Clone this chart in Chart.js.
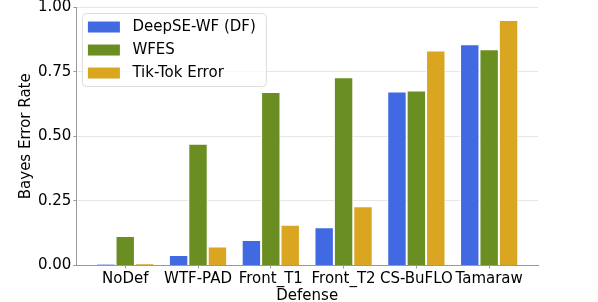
<!DOCTYPE html>
<html lang="en">
  <head>
    <meta charset="UTF-8" />
    <title>Bayes Error Rate by Defense</title>
    <style>
      html, body {
        margin: 0;
        padding: 0;
        background: #fff;
      }
      #wrap {
        width: 598px;
        height: 302px;
      }
    </style>
  </head>
  <body>
    <div id="wrap"><canvas id="chart"></canvas></div>

    <script src="https://cdn.jsdelivr.net/npm/chart.js"></script>
    <script>
      const categories = ["NoDef", "WTF-PAD", "Front_T1", "Front_T2", "CS-BuFLO", "Tamaraw"];
      const deepseValues = [0.005, 0.041, 0.099, 0.148, 0.673, 0.856];
      const wfesValues = [0.114, 0.471, 0.671, 0.728, 0.677, 0.837];
      const tiktokValues = [0.007, 0.074, 0.158, 0.229, 0.832, 0.950];
      const yTicks = [0, 0.25, 0.5, 0.75, 1.0];

      const seriesNames = ["DeepSE-WF (DF)", "WFES", "Tik-Tok Error"];
      const seriesColors = ["#4169E1", "#6B8E23", "#DAA520"];

      const FONT = '"DejaVu Sans", sans-serif';
      Chart.defaults.font.family = FONT;
      Chart.defaults.font.size = 15;
      Chart.defaults.color = "#000";

      const toPoints = (vals) => vals.map((v, i) => ({ x: i, y: v }));

      // legend box drawn inside the plot, upper left
      const innerLegend = {
        id: "innerLegend",
        afterDraw(chart) {
          const { ctx, chartArea } = chart;
          const x0 = chartArea.left + 6;
          const y0 = chartArea.top + 6.5;
          const w = 184, h = 73;
          ctx.save();
          ctx.beginPath();
          ctx.roundRect(x0, y0, w, h, 4);
          ctx.fillStyle = "rgba(255,255,255,0.8)";
          ctx.fill();
          ctx.strokeStyle = "#dcdcdc";
          ctx.lineWidth = 1;
          ctx.stroke();
          ctx.font = "15px " + FONT;
          ctx.textBaseline = "middle";
          chart.data.datasets.forEach((ds, i) => {
            const cy = y0 + 13.5 + i * 23;
            ctx.fillStyle = ds.backgroundColor;
            ctx.fillRect(x0 + 5.5, cy - 5.5, 32, 11);
            ctx.fillStyle = "#000";
            ctx.fillText(ds.label, x0 + 50, cy + 0.5);
          });
          ctx.restore();
        },
      };

      new Chart(document.getElementById("chart"), {
        type: "bar",
        data: {
          datasets: [deepseValues, wfesValues, tiktokValues].map((vals, i) => ({
            label: seriesNames[i],
            data: toPoints(vals),
            backgroundColor: seriesColors[i],
            borderColor: "#fff",
            borderWidth: 1,
            borderSkipped: "bottom",
            categoryPercentage: 0.8,
            barPercentage: 1.0,
          })),
        },
        options: {
          responsive: true,
          maintainAspectRatio: false,
          animation: false,
          layout: { padding: { left: 17, right: 60, top: 0, bottom: 1.5 } },
          plugins: {
            legend: { display: false },
            tooltip: { enabled: false },
          },
          scales: {
            x: {
              type: "linear",
              offset: false,
              min: -0.671,
              max: 5.671,
              afterBuildTicks: (scale) => {
                scale.ticks = categories.map((c, i) => ({ value: i }));
              },
              ticks: {
                callback: (v) => categories[v] ?? "",
                padding: 5.5,
                maxRotation: 0,
                autoSkip: false,
                font: { size: 15, lineHeight: 0.733 },
              },
              grid: {
                drawOnChartArea: false,
                offset: false,
                tickLength: 3,
                tickColor: "#999",
              },
              border: { color: "#999", width: 1 },
              title: {
                display: true,
                text: "Defense",
                padding: { top: 2, bottom: 0 },
                font: { size: 15, lineHeight: 0.533 },
              },
            },
            y: {
              min: 0,
              max: 1,
              afterBuildTicks: (scale) => {
                scale.ticks = yTicks.map((v) => ({ value: v }));
              },
              ticks: {
                callback: (v) => v.toFixed(2),
                padding: 2,
                font: { size: 15, lineHeight: 0.67 },
              },
              grid: {
                color: "rgba(176,176,176,0.3)",
                tickLength: 3,
                tickColor: "#999",
              },
              border: { color: "#999", width: 1 },
              title: {
                display: true,
                text: "Bayes Error Rate",
                padding: { top: 0, bottom: 1 },
                font: { size: 15, lineHeight: 1.2 },
              },
            },
          },
        },
        plugins: [innerLegend],
      });
    </script>
  </body>
</html>
